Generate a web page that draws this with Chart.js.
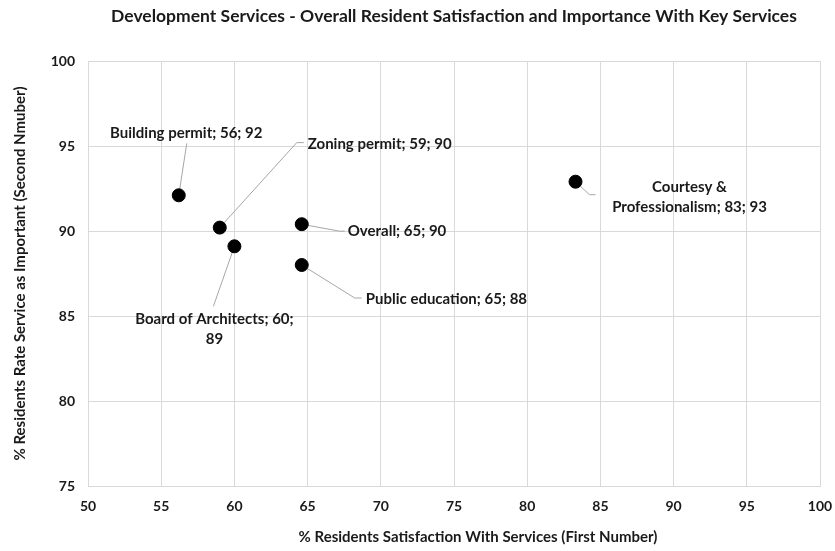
<!DOCTYPE html>
<html>
<head>
<meta charset="utf-8">
<script src="https://cdn.jsdelivr.net/npm/chart.js@4.4.1/dist/chart.umd.min.js"></script>
<style>
  html, body { margin: 0; padding: 0; background: #ffffff; }
  #wrap { width: 835px; height: 551px; }
</style>
</head>
<body>
<div id="wrap"><canvas id="c" width="835" height="551"></canvas></div>
<script>
// ---- data ----
const serviceNames = ['Building permit', 'Zoning permit', 'Board of Architects', 'Overall', 'Public education', 'Courtesy & Professionalism'];
const satisfaction = [56.2, 59.0, 60.0, 64.6, 64.6, 83.3];   // x: % satisfied (first number)
const importance   = [92.1, 90.2, 89.1, 90.4, 88.0, 92.9];   // y: % rate important (second number)
const xTickValues = [50, 55, 60, 65, 70, 75, 80, 85, 90, 95, 100];
const yTickValues = [75, 80, 85, 90, 95, 100];

const chartTitle = 'Development Services - Overall Resident Satisfaction and Importance With Key Services';
const xTitle = '% Residents Satisfaction With Services (First Number)';
const yTitle = '% Residents Rate Service as Important (Second Nmuber)';

// ---- label placement (pixel offsets from each point; style only) ----
// breakAfter: number of words on the first line when the label wraps
const labelPlacement = [
  { dx: 7.5, dy: -62, align: 'center', breakAfter: 0, lead: [[8, -52]] },
  { dx: 88,  dy: -83, align: 'left',   breakAfter: 0, lead: [[77, -85], [84, -85]] },
  { dx: -20, dy: 83,  align: 'center', breakAfter: 4, lead: [[-21, 60]] },
  { dx: 46,  dy: 6.5, align: 'left',   breakAfter: 0, lead: [[38, 7], [43, 7]] },
  { dx: 64,  dy: 34,  align: 'left',   breakAfter: 0, lead: [[53, 33], [60, 33]] },
  { dx: 114, dy: 15,  align: 'center', breakAfter: 2, lead: [[14, 13], [20, 13]] }
];
const X_TITLE_SHIFT = 24; // reference x-axis title sits right of the plot centre

const FONT = 'Lato, "Open Sans", sans-serif';
const TEXT = '#1a1a1a';
const GRID = '#d9d9d9';

const points = satisfaction.map((x, i) => ({ x: x, y: importance[i] }));

function labelLines(i, breakAfter) {
  const text = serviceNames[i] + '; ' + Math.round(satisfaction[i]) + '; ' + Math.round(importance[i]);
  if (!breakAfter) return [text];
  const w = text.split(' ');
  return [w.slice(0, breakAfter).join(' '), w.slice(breakAfter).join(' ')];
}

const labelPlugin = {
  id: 'pointLabels',
  beforeDatasetsDraw(chart) {
    const ctx = chart.ctx;
    const meta = chart.getDatasetMeta(0);
    ctx.save();
    ctx.strokeStyle = '#a6a6a6';
    ctx.lineWidth = 1;
    meta.data.forEach((el, i) => {
      const p = labelPlacement[i];
      ctx.beginPath();
      ctx.moveTo(el.x, el.y);
      p.lead.forEach(([lx, ly]) => ctx.lineTo(el.x + lx, el.y + ly));
      ctx.stroke();
    });
    ctx.restore();
  },
  afterDatasetsDraw(chart) {
    const ctx = chart.ctx;
    const meta = chart.getDatasetMeta(0);
    ctx.save();
    ctx.font = 'bold 15px ' + FONT;
    ctx.fillStyle = TEXT;
    ctx.textBaseline = 'middle';
    meta.data.forEach((el, i) => {
      const p = labelPlacement[i];
      const lines = labelLines(i, p.breakAfter);
      ctx.textAlign = p.align;
      const lh = 20;
      lines.forEach((ln, k) => {
        ctx.fillText(ln, el.x + p.dx, el.y + p.dy + (k - (lines.length - 1) / 2) * lh);
      });
    });
    ctx.restore();
  }
};

new Chart(document.getElementById('c'), {
  type: 'scatter',
  data: {
    datasets: [{
      label: 'Services',
      data: points,
      backgroundColor: '#000000',
      borderColor: '#000000',
      borderWidth: 1,
      pointRadius: 6.5,
      pointHoverRadius: 6.5
    }]
  },
  options: {
    responsive: false,
    animation: false,
    events: [],
    layout: { padding: { left: 0, right: 15, top: 0, bottom: 0 } },
    plugins: {
      legend: { display: false },
      tooltip: { enabled: false },
      title: {
        display: true,
        text: chartTitle,
        fullSize: false,
        color: TEXT,
        font: { family: FONT, size: 17.5, weight: 'bold', lineHeight: 1.2 },
        padding: { top: 6, bottom: 34 }
      }
    },
    scales: {
      x: {
        type: 'linear',
        min: 50, max: 100,
        afterBuildTicks(s) { s.ticks = xTickValues.map(v => ({ value: v })); },
        afterFit(s) {
          s.height = 65; s.paddingLeft = 0; s.paddingRight = 0;
          if (!s._titleShifted) {
            const orig = s.drawTitle;
            s.drawTitle = function () {
              this.ctx.save();
              this.ctx.translate(X_TITLE_SHIFT, 0);
              orig.apply(this, arguments);
              this.ctx.restore();
            };
            s._titleShifted = true;
          }
        },
        ticks: { color: TEXT, padding: 12, font: { family: FONT, size: 14, weight: 'bold' } },
        grid: { color: GRID, drawTicks: false, lineWidth: 1 },
        border: { color: GRID },
        title: {
          display: true, text: xTitle, color: TEXT,
          font: { family: FONT, size: 15, weight: 'bold', lineHeight: 1.2 },
          padding: { top: 0, bottom: 5 }
        }
      },
      y: {
        type: 'linear',
        min: 75, max: 100,
        afterBuildTicks(s) { s.ticks = yTickValues.map(v => ({ value: v })); },
        afterFit(s) { s.width = 88; },
        ticks: { color: TEXT, padding: 13, font: { family: FONT, size: 14, weight: 'bold' } },
        grid: { color: GRID, drawTicks: false, lineWidth: 1 },
        border: { color: GRID },
        title: {
          display: true, text: yTitle, color: TEXT,
          font: { family: FONT, size: 15, weight: 'bold', lineHeight: 1.2 },
          padding: { top: 11, bottom: 0 }
        }
      }
    }
  },
  plugins: [labelPlugin]
});
</script>
</body>
</html>
